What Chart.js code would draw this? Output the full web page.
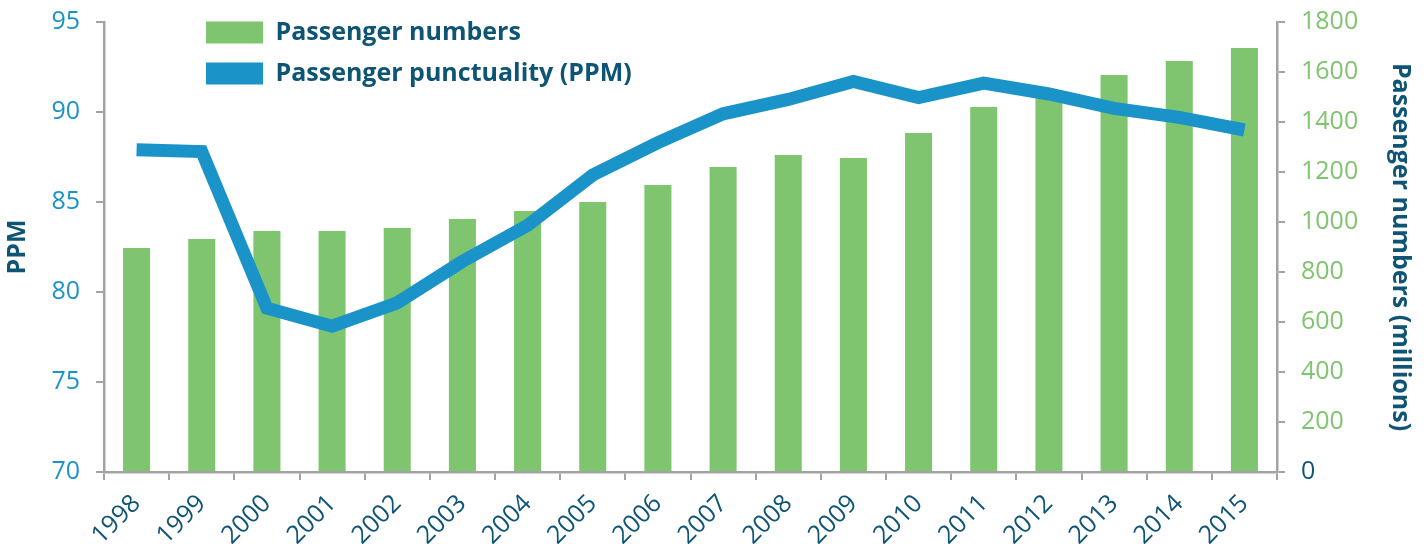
<!DOCTYPE html>
<html>
<head>
<meta charset="utf-8">
<script src="https://cdn.jsdelivr.net/npm/chart.js@4"></script>
<style>
  html, body { margin: 0; padding: 0; background: #fff; }
  #wrap { width: 1428px; height: 544px; }
</style>
</head>
<body>
<div id="wrap"><canvas id="chart"></canvas></div>
<script>
const years = ['1998', '1999', '2000', '2001', '2002', '2003', '2004', '2005', '2006',
  '2007', '2008', '2009', '2010', '2011', '2012', '2013', '2014', '2015'];

// passenger numbers, millions (right axis)
const passengerNumbers = [896, 932, 964, 964, 976, 1012, 1044, 1080, 1148,
  1220, 1268, 1256, 1356, 1460, 1516, 1588, 1644, 1696];

// public performance measure, % (left axis)
const ppm = [87.9, 87.8, 79.1, 78.1, 79.4, 81.7, 83.7, 86.5, 88.3,
  89.9, 90.7, 91.7, 90.8, 91.6, 91.0, 90.2, 89.7, 89.0];

const ppmRange = [70, 95];
const passengerRange = [0, 1800];

const green = '#7fc46e';
const blue = '#1a94c8';
const teal = '#0e5474';
const axisGrey = '#a3a3a3';
const font = "'Open Sans', sans-serif";

// move the legend into the upper left of the plot
const legendPlace = {
    id: 'legendPlace',
    afterLayout(chart) {
        chart.legend.left = 190;
        chart.legend.top = 4;
    }
};

// fixed axis sizes, no extra room for half labels
function fixWidth(w) {
    return (scale) => {
        scale.width = w;
        scale.paddingTop = 0;
        scale.paddingBottom = 0;
    };
}

let ctx = document.querySelector('#chart').getContext('2d');

new Chart(ctx, {
    data: {
        labels: years,
        datasets: [
            {
                type: 'bar',
                label: 'Passenger numbers',
                data: passengerNumbers,
                backgroundColor: green,
                borderWidth: 0,
                yAxisID: 'yRight',
                categoryPercentage: 1,
                barPercentage: 0.415,
                order: 2
            },
            {
                type: 'line',
                label: 'Passenger punctuality (PPM)',
                data: ppm,
                borderColor: blue,
                backgroundColor: blue,
                borderWidth: 13,
                borderJoinStyle: 'miter',
                borderCapStyle: 'butt',
                pointRadius: 0,
                tension: 0,
                fill: false,
                yAxisID: 'yLeft',
                order: 1
            }
        ]
    },
    options: {
        responsive: true,
        maintainAspectRatio: false,
        animation: false,
        layout: { padding: { top: 22, left: 0, right: 0, bottom: 0 } },
        plugins: {
            tooltip: { enabled: false },
            legend: {
                position: 'chartArea',
                align: 'start',
                labels: {
                    boxWidth: 57,
                    boxHeight: 22,
                    padding: 16,
                    color: teal,
                    font: { family: font, size: 25, weight: 'bold' },
                    sort: (a, b) => a.datasetIndex - b.datasetIndex,
                    generateLabels: (chart) => Chart.defaults.plugins.legend.labels.generateLabels(chart)
                        .map(item => ({ ...item, lineWidth: 0 }))
                }
            }
        },
        scales: {
            x: {
                offset: true,
                grid: {
                    offset: true,
                    drawOnChartArea: false,
                    drawTicks: true,
                    tickLength: 8,
                    color: axisGrey,
                    lineWidth: 2
                },
                border: { color: axisGrey, width: 2.5 },
                ticks: {
                    color: teal,
                    font: { family: font, size: 25 },
                    minRotation: 45,
                    maxRotation: 45,
                    padding: 9
                },
                afterFit: (scale) => { scale.height = 72; }
            },
            yLeft: {
                position: 'left',
                min: ppmRange[0],
                max: ppmRange[1],
                ticks: {
                    stepSize: 5,
                    color: blue,
                    padding: 16,
                    font: { family: font, size: 25 }
                },
                grid: {
                    drawOnChartArea: false,
                    tickLength: 8,
                    color: axisGrey,
                    lineWidth: 2
                },
                border: { color: axisGrey, width: 2.5 },
                title: {
                    display: true,
                    text: 'PPM',
                    color: teal,
                    padding: { top: 3, bottom: 0 },
                    font: { family: font, size: 25, weight: 'bold' }
                },
                afterFit: fixWidth(104)
            },
            yRight: {
                position: 'right',
                min: passengerRange[0],
                max: passengerRange[1],
                ticks: {
                    stepSize: 200,
                    padding: 16,
                    callback: (v) => String(v),
                    color: (c) => c.tick && c.tick.value === 0 ? teal : green,
                    font: { family: font, size: 25 }
                },
                grid: {
                    drawOnChartArea: false,
                    tickLength: 8,
                    color: axisGrey,
                    lineWidth: 2
                },
                border: { color: axisGrey, width: 2.5 },
                title: {
                    display: true,
                    text: 'Passenger numbers (millions)',
                    color: teal,
                    padding: { top: 13, bottom: 0 },
                    font: { family: font, size: 25, weight: 'bold' }
                },
                afterFit: fixWidth(151)
            }
        }
    },
    plugins: [legendPlace]
});
</script>
</body>
</html>
